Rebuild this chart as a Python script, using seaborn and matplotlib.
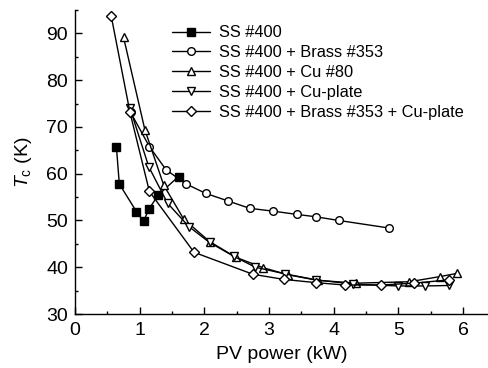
import matplotlib
matplotlib.use("Agg")
import matplotlib.pyplot as plt
from matplotlib.ticker import MultipleLocator
import seaborn as sns

# SS #400
ss_x = [0.64, 0.685, 0.95, 1.06, 1.14, 1.29, 1.60]
ss_y = [65.7, 57.8, 51.9, 49.8, 52.4, 55.5, 59.4]

# SS #400 + Brass #353
brass_x = [0.86, 1.15, 1.41, 1.72, 2.02, 2.36, 2.70, 3.06, 3.43, 3.72, 4.08, 4.85]
brass_y = [73.1, 65.8, 60.8, 57.8, 55.8, 54.2, 52.6, 52.0, 51.3, 50.8, 50.0, 48.4]

# SS #400 + Cu #80
cu80_x = [0.75, 1.08, 1.37, 1.68, 2.08, 2.49, 2.91, 3.29, 3.75, 4.35, 5.17, 5.64, 5.91]
cu80_y = [89.2, 69.4, 57.6, 50.3, 45.5, 42.1, 39.9, 38.4, 37.2, 36.6, 36.9, 38.0, 38.7]

# SS #400 + Cu-plate
plate_x = [0.85, 1.14, 1.43, 1.76, 2.08, 2.46, 2.79, 3.24, 3.73, 4.30, 4.99, 5.41, 5.78]
plate_y = [74.0, 61.5, 53.7, 48.7, 45.3, 42.3, 40.0, 38.6, 37.3, 36.4, 36.0, 36.0, 36.1]

# SS #400 + Brass #353 + Cu-plate
both_x = [0.56, 0.85, 1.15, 1.84, 2.75, 3.23, 3.73, 4.17, 4.73, 5.24, 5.78]
both_y = [93.7, 73.1, 56.2, 43.2, 38.5, 37.4, 36.7, 36.2, 36.2, 36.6, 37.3]

series = [
    ("SS #400", ss_x, ss_y, "s", "black"),
    ("SS #400 + Brass #353", brass_x, brass_y, "o", "white"),
    ("SS #400 + Cu #80", cu80_x, cu80_y, "^", "white"),
    ("SS #400 + Cu-plate", plate_x, plate_y, "v", "white"),
    ("SS #400 + Brass #353 + Cu-plate", both_x, both_y, "D", "white"),
]

sns.set_style("ticks")
plt.rcParams['font.family'] = ['Liberation Sans', 'DejaVu Sans']
plt.rcParams['mathtext.fontset'] = 'custom'
plt.rcParams['mathtext.it'] = 'Liberation Sans:italic'
plt.rcParams['mathtext.rm'] = 'Liberation Sans'
for key in ('text.color', 'axes.labelcolor', 'xtick.color', 'ytick.color',
            'xtick.labelcolor', 'ytick.labelcolor'):
    plt.rcParams[key] = 'black'

fig = plt.figure(figsize=(4.89, 3.68), dpi=100)
ax = fig.add_axes([0.1534, 0.1467, 0.8466, 0.826])

for label, xs, ys, mk, fc in series:
    ms = 5 if mk == "D" else 5.5
    sns.lineplot(x=xs, y=ys, ax=ax, sort=False, estimator=None, color="black",
                 linewidth=1, marker=mk, markersize=ms, markerfacecolor=fc,
                 markeredgecolor="black", markeredgewidth=1, label=label)

ax.set_xlim(0, 6.4)
ax.set_ylim(30, 95)
ax.xaxis.set_major_locator(MultipleLocator(1))
ax.xaxis.set_minor_locator(MultipleLocator(0.5))
ax.yaxis.set_major_locator(MultipleLocator(10))
ax.yaxis.set_minor_locator(MultipleLocator(5))
ax.tick_params(which="both", direction="in", labelsize=14, width=1, color="black")
ax.tick_params(which="major", length=5)
ax.tick_params(which="minor", length=2.5)
ax.tick_params(axis="x", which="major", pad=6)
ax.tick_params(axis="y", which="major", pad=5)
ax.spines["top"].set_visible(False)
ax.spines["right"].set_visible(False)
for s in ("left", "bottom"):
    ax.spines[s].set_linewidth(1)
    ax.spines[s].set_color("black")

ax.set_xlabel("PV power (kW)", fontsize=14, labelpad=5)
ax.set_ylabel(r"$T_\mathrm{c}$ (K)", fontsize=14, labelpad=9)

ax.legend(frameon=False, loc="upper left", bbox_to_anchor=(0.235, 0.95),
          fontsize=11.8, handlelength=2.3, handletextpad=0.55, labelspacing=0.3,
          borderpad=0, borderaxespad=0)

fig.savefig("out.png", dpi=100)
